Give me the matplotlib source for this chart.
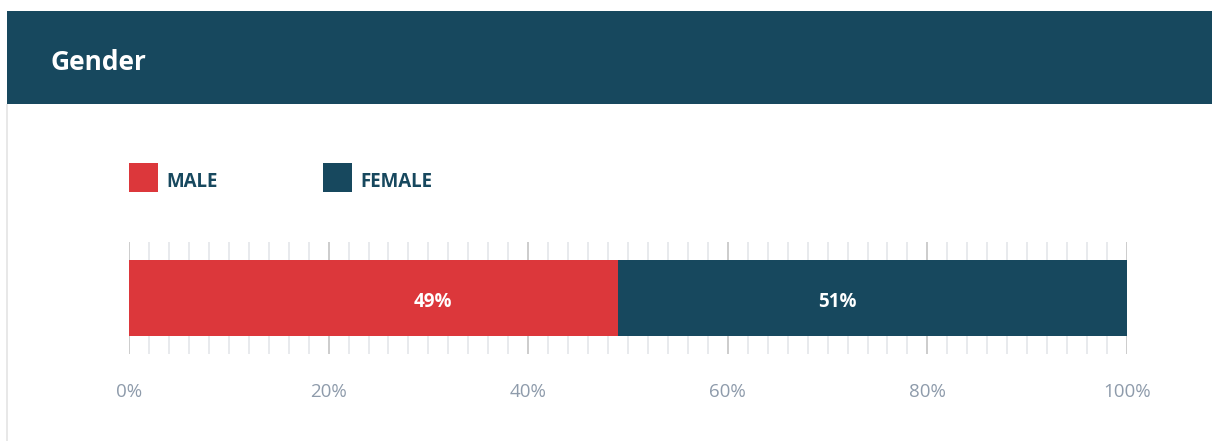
import matplotlib
matplotlib.use('Agg')
import matplotlib.pyplot as plt
from matplotlib.patches import Rectangle
import numpy as np

plt.rcParams['font.family'] = ['Open Sans', 'DejaVu Sans']

# Data
categories = ['MALE', 'FEMALE']
values = [49, 51]
colors = ['#dc373b', '#17485e']
title = 'Gender'

headerColor = '#17485e'
W, H = 1212, 441

fig = plt.figure(figsize=(W / 100, H / 100), dpi=100)

# Header band
fig.add_artist(Rectangle((7 / W, 1 - 104 / H), 1 - 7 / W, 93 / H,
                         transform=fig.transFigure, color=headerColor, lw=0))
# Left border of the card
fig.add_artist(Rectangle((6 / W, 0), 2 / W, 1 - 104 / H,
                         transform=fig.transFigure, color='#e8e8e8', lw=0))
fig.text(51 / W, 1 - 63 / H, title, color='white', fontsize=19,
         fontweight='bold', va='center', ha='left')

# Legend (hand made, like the original widget)
legendX = [129, 323]
for i, cat in enumerate(categories):
    fig.add_artist(Rectangle((legendX[i] / W, 1 - 192 / H), 29 / W, 29 / H,
                             transform=fig.transFigure, color=colors[i], lw=0))
    fig.text((legendX[i] + 37) / W, 1 - 182 / H, cat, color=headerColor,
             fontsize=13.5, fontweight='bold', va='center', ha='left')

# Stacked bar
ax = fig.add_axes([129 / W, 1 - 354 / H, 998 / W, 112 / H])
left = 0
for i, v in enumerate(values):
    ax.barh(0.5, v, left=left, height=76 / 112, color=colors[i], zorder=3)
    # the widget squeezes its labels toward the middle of the bar
    labelX = 10.6 + 0.81 * (left + v / 2)
    ax.text(labelX, 0.465, '%d%%' % v, color='white', fontsize=13.5,
            fontweight='bold', ha='center', va='center', zorder=4)
    left += v

ax.set_xlim(0, 100)
ax.set_ylim(0, 1)
ax.set_xticks(np.arange(0, 101, 20))
ax.set_xticks(np.arange(0, 101, 2), minor=True)
ax.set_xticklabels(['%d%%' % t for t in range(0, 101, 20)])
ax.set_yticks([])
ax.grid(which='minor', axis='x', color='#e6e8ec', lw=1.3, zorder=0)
ax.grid(which='major', axis='x', color='#c8c8c8', lw=1.3, zorder=1)
ax.tick_params(axis='x', which='both', length=0, pad=21, labelsize=13.5,
               labelcolor='#8e9bab')
for s in ax.spines.values():
    s.set_visible(False)

fig.savefig('out.png', dpi=100)
